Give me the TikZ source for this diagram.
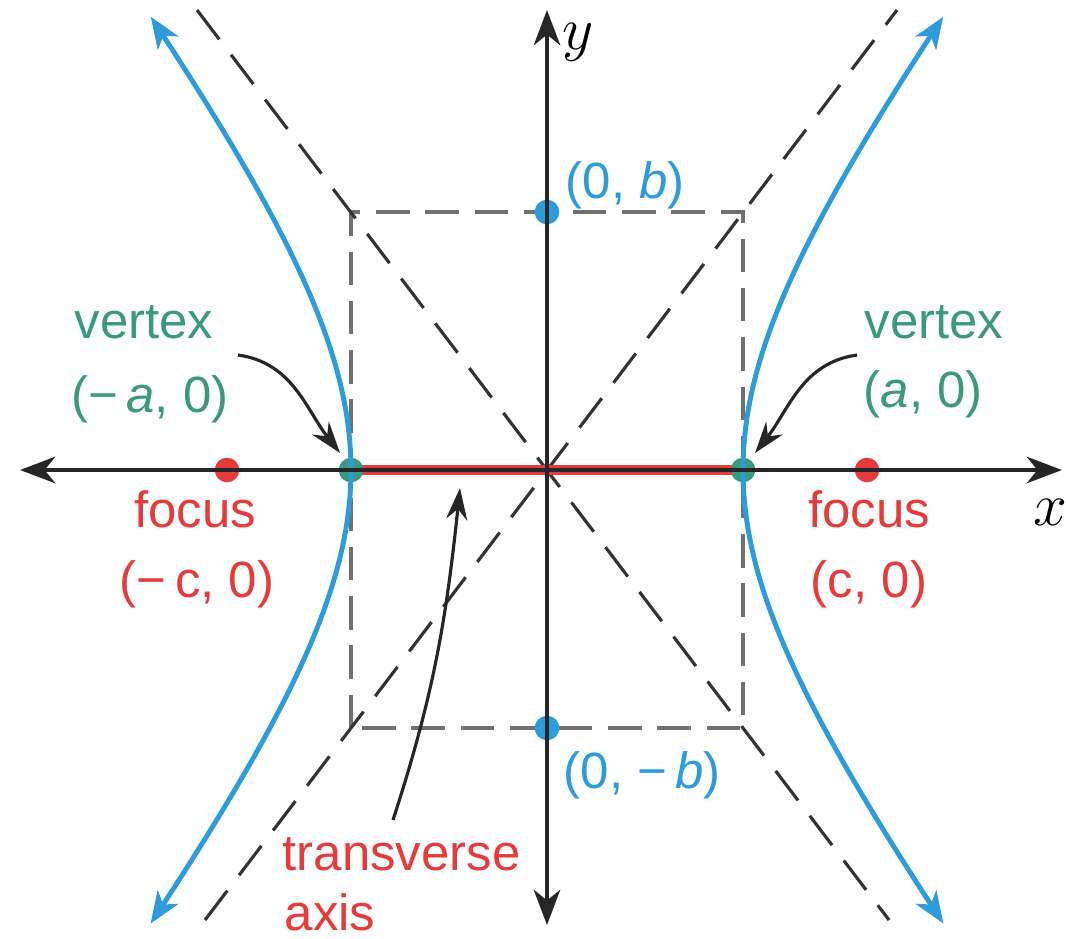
\documentclass[tikz,border=0pt]{standalone}
\usepackage{fontspec}
\setmainfont{Liberation Sans}
\usetikzlibrary{arrows.meta,positioning}
\definecolor{branch}{HTML}{2E9BDA}
\definecolor{vertex}{HTML}{3B9A7E}
\definecolor{focus}{HTML}{E63B3B}
\definecolor{guide}{HTML}{707070}

\begin{document}
\begin{tikzpicture}[
  font=\fontsize{14.5}{17}\selectfont,
  axis/.style={{Stealth[length=10pt,width=7.5pt,inset=3pt]}-{Stealth[length=10pt,width=7.5pt,inset=3pt]},line width=1.3pt,black!85},
  hyp/.style={{Stealth[length=9pt,width=7pt,inset=2.5pt]}-{Stealth[length=9pt,width=7pt,inset=2.5pt]},line width=1.4pt,branch},
  asym/.style={dash pattern=on 10.5pt off 5.5pt,line width=0.9pt,black!80},
  boxline/.style={dash pattern=on 9.5pt off 4.5pt,line width=1.3pt,guide},
  dot/.style={circle,inner sep=0pt,minimum size=7pt},
  pointer/.style={-{Stealth[length=9pt,width=6pt,inset=3pt]},line width=0.9pt,black!85},
  lbl/.style={inner sep=0pt,anchor=base}
]
\useasboundingbox (-5.47,-4.68) rectangle (5.19,4.70);

\coordinate (xl) at (-5.27,0);
\coordinate (xr) at (5.15,0);
\coordinate (yb) at (0,-4.55);
\coordinate (yt) at (0,4.60);
\coordinate (V1) at (-1.96,0);
\coordinate (V2) at (1.96,0);

\draw[boxline] (-1.96,-2.58) rectangle (1.96,2.58);
\draw[asym] (-3.42,-4.50) -- (3.50,4.60);
\draw[asym] (-3.50,4.60) -- (3.42,-4.50);
\draw[focus,line width=3pt] (V1) -- (V2);

\node[dot,fill=vertex] (v1) at (V1) {};
\node[dot,fill=vertex] (v2) at (V2) {};
\node[dot,fill=focus] (f1) at (-3.2,0) {};
\node[dot,fill=focus] (f2) at (3.2,0) {};
\node[dot,fill=branch] (b1) at (0,2.58) {};
\node[dot,fill=branch] (b2) at (0,-2.58) {};

\draw[hyp] plot[domain=-1.33:1.33,samples=60,smooth,variable=\t] ({-1.96*cosh(\t)},{2.58*sinh(\t)});
\draw[hyp] plot[domain=-1.33:1.33,samples=60,smooth,variable=\t] ({1.96*cosh(\t)},{2.58*sinh(\t)});

\draw[axis] (xl) -- (xr);
\draw[axis] (yb) -- (yt);
\node[font=\fontsize{16}{18}\selectfont] (ylab) at (0.31,4.28) {$y$};
\node[font=\fontsize{16}{18}\selectfont] (xlab) at (5.03,-0.42) {$x$};

\node[lbl,text=vertex] (vname1) at (-4.03,1.32) {vertex};
\node[lbl,text=vertex] (vpt1) at (-3.97,0.58) {(−\,\textit{a}, 0)};
\node[lbl,text=vertex] (vname2) at (3.87,1.32) {vertex};
\node[lbl,text=vertex,anchor=base west] (vpt2) at (3.16,0.63) {(\textit{a}, 0)};
\node[lbl,text=focus] (fname1) at (-3.52,-0.57) {focus};
\node[lbl,text=focus] (fpt1) at (-3.50,-1.27) {(−\,c, 0)};
\node[lbl,text=focus] (fname2) at (3.22,-0.57) {focus};
\node[lbl,text=focus] (fpt2) at (3.22,-1.27) {(c, 0)};
\node[lbl,text=branch,anchor=base west] (bpt1) at (0.18,2.72) {(0, \textit{b})};
\node[lbl,text=branch,anchor=base west] (bpt2) at (0.16,-3.18) {(0, −\,\textit{b})};
\node[lbl,text=focus,anchor=base west] (tname) at (-2.65,-4.0) {transverse};
\node[lbl,text=focus,anchor=base west] (aname) at (-2.63,-4.6) {axis};

\coordinate (vtail1) at (-3.09,1.15);
\coordinate (vtip1) at (-2.07,0.17);
\coordinate (vtail2) at (3.10,1.15);
\coordinate (vtip2) at (2.08,0.17);
\coordinate (ttail) at (-1.54,-3.50);
\coordinate (ttip) at (-0.87,-0.18);
\draw[pointer] (vtail1) to[out=-8,in=128] (vtip1);
\draw[pointer] (vtail2) to[out=188,in=52] (vtip2);
\draw[pointer] (ttail) to[out=72,in=-96] (ttip);
\end{tikzpicture}
\end{document}
